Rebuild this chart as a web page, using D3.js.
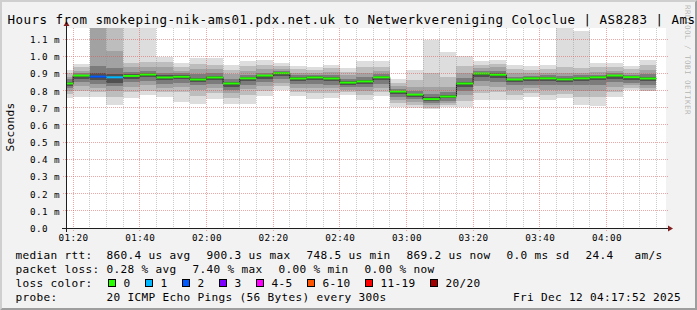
<!DOCTYPE html>
<html>
<head>
<meta charset="utf-8">
<script src="https://cdn.jsdelivr.net/npm/d3@7"></script>
<style>
  html, body { margin: 0; padding: 0; background: #f2f2f2; }
  svg { display: block; }
  text { font-family: "DejaVu Sans Mono", monospace; fill: #000; white-space: pre; }
</style>
</head>
<body>
<svg id="chart" width="697" height="310"></svg>
<script>
const day = '2025-12-12';
const rangeStart = '01:17:52';
const rangeEnd = '04:17:52';

// start of each 300s step
const stepStarts = [
  '01:15', '01:20', '01:25', '01:30', '01:35', '01:40', '01:45', '01:50', '01:55',
  '02:00', '02:05', '02:10', '02:15', '02:20', '02:25', '02:30', '02:35', '02:40',
  '02:45', '02:50', '02:55', '03:00', '03:05', '03:10', '03:15', '03:20', '03:25',
  '03:30', '03:35', '03:40', '03:45', '03:50', '03:55', '04:00', '04:05', '04:10',
];

// median rtt per step, ms
const median = [
  0.840, 0.886, 0.880, 0.876, 0.884, 0.892, 0.875, 0.879, 0.863,
  0.875, 0.840, 0.870, 0.886, 0.900, 0.869, 0.875, 0.869, 0.845,
  0.852, 0.876, 0.793, 0.775, 0.749, 0.764, 0.840, 0.898, 0.891,
  0.863, 0.870, 0.870, 0.864, 0.870, 0.876, 0.886, 0.877, 0.869,
];

// lost pings out of 20 per step
const lossCount = [
  0, 0, 2, 1, 0, 0, 0, 0, 0,
  0, 0, 0, 0, 0, 0, 0, 0, 0,
  0, 0, 0, 0, 0, 0, 0, 0, 0,
  0, 0, 0, 0, 0, 0, 0, 0, 0,
];

// smoke: ping quantiles per step, ms, outer to inner
// [min, lo1, lo2, lo3, lo4, hi4, hi3, hi2, hi1, max]
const smoke = [
  [0.757, 0.780, 0.795, 0.812, 0.825, 0.852, 0.865, 0.880, 0.900, 0.920],
  [0.763, 0.795, 0.825, 0.850, 0.868, 0.892, 0.900, 0.915, 0.935, 0.955],
  [0.760, 0.790, 0.815, 0.840, 0.860, 0.905, 0.945, 1.300, 1.300, 1.300],
  [0.718, 0.765, 0.800, 0.825, 0.845, 0.895, 0.930, 1.031, 1.300, 1.300],
  [0.758, 0.790, 0.820, 0.850, 0.870, 0.895, 0.910, 0.935, 0.962, 1.300],
  [0.772, 0.800, 0.830, 0.858, 0.878, 0.900, 0.915, 0.940, 0.965, 1.300],
  [0.764, 0.790, 0.815, 0.840, 0.860, 0.888, 0.905, 0.935, 0.965, 0.998],
  [0.735, 0.790, 0.820, 0.845, 0.865, 0.888, 0.900, 0.915, 0.940, 0.962],
  [0.722, 0.770, 0.805, 0.830, 0.848, 0.875, 0.895, 0.925, 0.955, 0.987],
  [0.753, 0.785, 0.815, 0.840, 0.860, 0.885, 0.900, 0.925, 0.950, 0.987],
  [0.723, 0.755, 0.785, 0.805, 0.822, 0.852, 0.870, 0.895, 0.920, 0.950],
  [0.724, 0.775, 0.810, 0.835, 0.855, 0.880, 0.893, 0.915, 0.945, 0.974],
  [0.770, 0.795, 0.825, 0.850, 0.870, 0.893, 0.905, 0.925, 0.950, 0.975],
  [0.803, 0.825, 0.845, 0.865, 0.885, 0.907, 0.915, 0.928, 0.945, 0.963],
  [0.769, 0.790, 0.815, 0.838, 0.855, 0.878, 0.890, 0.905, 0.925, 0.943],
  [0.753, 0.785, 0.815, 0.840, 0.860, 0.882, 0.890, 0.905, 0.920, 0.935],
  [0.759, 0.785, 0.812, 0.835, 0.855, 0.878, 0.890, 0.910, 0.930, 0.949],
  [0.776, 0.790, 0.805, 0.820, 0.833, 0.855, 0.870, 0.890, 0.910, 0.930],
  [0.745, 0.775, 0.800, 0.820, 0.838, 0.862, 0.880, 0.905, 0.935, 0.970],
  [0.769, 0.790, 0.815, 0.840, 0.860, 0.883, 0.895, 0.915, 0.940, 0.970],
  [0.704, 0.725, 0.745, 0.765, 0.780, 0.798, 0.808, 0.825, 0.845, 0.868],
  [0.700, 0.718, 0.735, 0.750, 0.765, 0.782, 0.795, 0.820, 0.860, 0.921],
  [0.690, 0.700, 0.715, 0.728, 0.740, 0.760, 0.780, 0.820, 0.900, 1.092],
  [0.704, 0.715, 0.728, 0.742, 0.755, 0.772, 0.790, 0.820, 0.880, 1.026],
  [0.704, 0.740, 0.775, 0.800, 0.822, 0.852, 0.875, 0.905, 0.945, 0.999],
  [0.747, 0.785, 0.825, 0.855, 0.880, 0.905, 0.915, 0.930, 0.950, 0.974],
  [0.745, 0.790, 0.820, 0.850, 0.875, 0.900, 0.915, 0.935, 0.955, 0.980],
  [0.747, 0.775, 0.805, 0.830, 0.850, 0.870, 0.880, 0.900, 0.925, 0.951],
  [0.762, 0.785, 0.812, 0.835, 0.855, 0.876, 0.885, 0.900, 0.920, 0.945],
  [0.747, 0.775, 0.805, 0.830, 0.855, 0.877, 0.888, 0.903, 0.925, 0.951],
  [0.755, 0.780, 0.805, 0.830, 0.850, 0.872, 0.885, 0.905, 0.935, 1.300],
  [0.718, 0.760, 0.800, 0.830, 0.855, 0.877, 0.888, 0.905, 0.930, 1.148],
  [0.712, 0.760, 0.800, 0.835, 0.860, 0.882, 0.893, 0.910, 0.935, 0.960],
  [0.762, 0.790, 0.820, 0.850, 0.870, 0.892, 0.900, 0.915, 0.935, 0.960],
  [0.805, 0.815, 0.830, 0.845, 0.862, 0.882, 0.890, 0.905, 0.925, 0.945],
  [0.795, 0.800, 0.815, 0.835, 0.855, 0.878, 0.895, 0.920, 0.950, 0.980],
];
const smokeColors = ['#dddddd', '#bdbdbd', '#a2a2a2', '#7c7c7c', '#505050'];

const yTicks = [0, 0.1, 0.2, 0.3, 0.4, 0.5, 0.6, 0.7, 0.8, 0.9, 1.0, 1.1];
const yTickLabels = ['0.0', '0.1 m', '0.2 m', '0.3 m', '0.4 m', '0.5 m', '0.6 m',
  '0.7 m', '0.8 m', '0.9 m', '1.0 m', '1.1 m'];
const yTop = 1.1641;

const lossLabels = ['0', '1', '2', '3', '4-5', '6-10', '11-19', '20/20'];
const lossColors = ['#26ff00', '#00b8ff', '#0059ff', '#7e00ff', '#ff00ff', '#ff5500', '#ff0000', '#a10000'];
const lossMin = [0, 1, 2, 3, 4, 6, 11, 20];

const title = 'Hours from smokeping-nik-ams01.pdx.net.uk to Netwerkvereniging Coloclue | AS8283 | Ams';
const medianStats = ['860.4 us avg', '900.3 us max', '748.5 us min', '869.2 us now', '0.0 ms sd', '24.4   am/s'];
const lossStats = ['0.28 % avg', '7.40 % max', '0.00 % min', '0.00 % now'];
const probeText = '20 ICMP Echo Pings (56 Bytes) every 300s';
const stampText = 'Fri Dec 12 04:17:52 2025';

const W = 697, H = 310;
const X0 = 66, XSIZE = 600, Y0 = 228, YSIZE = 200;

const parse = d3.timeParse('%Y-%m-%d %H:%M:%S');
const t0 = parse(`${day} ${rangeStart}`);
const t1 = parse(`${day} ${rangeEnd}`);
const steps = stepStarts.map((s) => parse(`${day} ${s}:00`));
const stepEnd = (t) => d3.timeMinute.offset(t, 5);

const x = d3.scaleTime().domain([t0, t1]).range([X0, X0 + XSIZE]);
const y = d3.scaleLinear().domain([0, yTop]).range([Y0, Y0 - YSIZE]);
const crisp = (v) => Math.floor(v) + 0.5;

function lossColor(n) {
  let idx = 0;
  lossMin.forEach((m, i) => { if (n >= m) idx = i; });
  return lossColors[idx];
}

const svg = d3.select('#chart');

// background + 3d border
svg.append('rect').attr('width', W).attr('height', H).attr('fill', '#f2f2f2');
svg.append('polygon')
  .attr('points', `0,${H} 2,${H - 2} 2,2 ${W - 2},2 ${W},0 0,0`)
  .attr('fill', '#cfcfcf');
svg.append('polygon')
  .attr('points', `2,${H - 2} ${W - 2},${H - 2} ${W - 2},2 ${W},0 ${W},${H} 0,${H}`)
  .attr('fill', '#9e9e9e');

svg.append('defs').append('clipPath').attr('id', 'canvas-clip')
  .append('rect').attr('x', X0).attr('y', Y0 - YSIZE).attr('width', XSIZE).attr('height', YSIZE);

svg.append('rect')
  .attr('x', X0).attr('y', Y0 - YSIZE).attr('width', XSIZE).attr('height', YSIZE)
  .attr('fill', '#ffffff');

const plot = svg.append('g').attr('clip-path', 'url(#canvas-clip)');

// smoke bands
smokeColors.forEach((color, k) => {
  plot.append('g')
    .attr('shape-rendering', 'crispEdges')
    .selectAll('rect')
    .data(steps)
    .join('rect')
    .attr('x', (d) => x(d))
    .attr('width', (d) => x(stepEnd(d)) - x(d))
    .attr('y', (d, i) => y(smoke[i][9 - k]))
    .attr('height', (d, i) => y(smoke[i][k]) - y(smoke[i][9 - k]))
    .attr('fill', color);
});

// median step line
const medPts = steps.map((t, i) => [t, median[i]]);
medPts.push([stepEnd(steps[steps.length - 1]), median[median.length - 1]]);
plot.append('path')
  .attr('d', d3.line().curve(d3.curveStepAfter).x((d) => x(d[0])).y((d) => y(d[1]))(medPts))
  .attr('fill', 'none')
  .attr('stroke', '#1a1a1a')
  .attr('stroke-width', 1);

// median coloured by loss
plot.append('g')
  .selectAll('rect')
  .data(steps)
  .join('rect')
  .attr('x', (d) => x(d))
  .attr('width', (d) => x(stepEnd(d)) - x(d))
  .attr('y', (d, i) => y(median[i]) - 1.2)
  .attr('height', 2)
  .attr('fill', (d, i) => lossColor(lossCount[i]));

// grid (drawn above the data, like rrdtool)
const grid = svg.append('g').attr('fill', 'none').attr('stroke-dasharray', '1,1');
const minorTicks = d3.timeMinute.every(5).range(t0, t1);
const majorTicks = minorTicks.filter((t) => t.getMinutes() % 20 === 0);

grid.selectAll('line.minor')
  .data(minorTicks.filter((t) => t.getMinutes() % 20 !== 0))
  .join('line')
  .attr('class', 'minor')
  .attr('x1', (d) => crisp(x(d))).attr('x2', (d) => crisp(x(d)))
  .attr('y1', Y0 - YSIZE).attr('y2', Y0 + 2)
  .attr('stroke', 'rgba(143,143,143,0.45)');

grid.selectAll('line.major')
  .data(majorTicks)
  .join('line')
  .attr('class', 'major')
  .attr('x1', (d) => crisp(x(d))).attr('x2', (d) => crisp(x(d)))
  .attr('y1', Y0 - YSIZE).attr('y2', Y0 + 3)
  .attr('stroke', 'rgba(222,79,79,0.5)');

grid.selectAll('line.hmajor')
  .data(yTicks.filter((v) => v > 0))
  .join('line')
  .attr('class', 'hmajor')
  .attr('x1', X0 - 3).attr('x2', X0 + XSIZE + 2)
  .attr('y1', (d) => crisp(y(d))).attr('y2', (d) => crisp(y(d)))
  .attr('stroke', 'rgba(222,79,79,0.5)');

// axes
svg.append('line')
  .attr('x1', X0 - 4).attr('x2', X0 + XSIZE + 4)
  .attr('y1', Y0 + 0.5).attr('y2', Y0 + 0.5)
  .attr('stroke', '#1f1f1f');
svg.append('line')
  .attr('x1', X0 + 0.5).attr('x2', X0 + 0.5)
  .attr('y1', Y0 + 4).attr('y2', Y0 - YSIZE - 4)
  .attr('stroke', '#1f1f1f');
svg.append('polygon')
  .attr('points', `${X0 + XSIZE + 2},${Y0 - 2.5} ${X0 + XSIZE + 2},${Y0 + 3.5} ${X0 + XSIZE + 7},${Y0 + 0.5}`)
  .attr('fill', '#801f1f');
svg.append('polygon')
  .attr('points', `${X0 - 2.5},${Y0 - YSIZE - 2} ${X0 + 3.5},${Y0 - YSIZE - 2} ${X0 + 0.5},${Y0 - YSIZE - 7}`)
  .attr('fill', '#801f1f');

// x labels
const xAxis = svg.append('g')
  .attr('transform', `translate(0,${Y0})`)
  .call(d3.axisBottom(x).tickValues(majorTicks).tickFormat(d3.timeFormat('%H:%M')).tickSize(0));
xAxis.select('.domain').remove();
xAxis.selectAll('text')
  .attr('y', 13).attr('dy', null)
  .style('font-size', '9.3px').style('letter-spacing', '0.4px')
  .attr('fill', '#000');

// y labels
const yAxis = svg.append('g')
  .attr('transform', `translate(${X0},0)`)
  .call(d3.axisLeft(y).tickValues(yTicks).tickFormat((d, i) => yTickLabels[i]).tickSize(0));
yAxis.select('.domain').remove();
yAxis.selectAll('text')
  .attr('text-anchor', 'start')
  .attr('x', 30 - X0).attr('dy', '0.37em')
  .style('font-size', '9.3px').style('letter-spacing', '0.4px')
  .attr('fill', '#000');

// title, unit, watermark
svg.append('text')
  .attr('x', 7.5).attr('y', 24)
  .style('font-size', '12.5px').style('letter-spacing', '0.475px')
  .text(title);

svg.append('text')
  .attr('transform', 'translate(14,127) rotate(-90)')
  .attr('text-anchor', 'middle')
  .style('font-size', '11.1px').style('letter-spacing', '0.32px')
  .text('Seconds');

svg.append('text')
  .attr('transform', `translate(${W - 12},5) rotate(90)`)
  .style('font-size', '7.6px').style('letter-spacing', '0.43px')
  .style('fill', 'rgba(0,0,0,0.28)')
  .text('RRDTOOL / TOBI OETIKER');

// legend
const legend = svg.append('g').style('font-size', '11.1px').style('letter-spacing', '0.32px');
const labelX = 15.5;
const colX = 106.5;
const rows = [258.5, 272.5, 286.5, 300.5];

function addText(xPos, yPos, str) {
  return legend.append('text')
    .attr('x', xPos).attr('y', yPos)
    .attr('xml:space', 'preserve')
    .text(str);
}

function addChunks(chunks, yPos, gap) {
  let cx = colX;
  chunks.forEach((c) => {
    const t = addText(cx, yPos, c);
    cx += t.node().getComputedTextLength() + gap;
  });
}

addText(labelX, rows[0], 'median rtt:');
addChunks(medianStats, rows[0], 16);

addText(labelX, rows[1], 'packet loss:');
addChunks(lossStats, rows[1], 16);

addText(labelX, rows[2], 'loss color:');
let bx = colX + 2;
lossLabels.forEach((lab, i) => {
  legend.append('rect')
    .attr('x', bx).attr('y', rows[2] - 7)
    .attr('width', 7).attr('height', 7)
    .attr('fill', lossColors[i])
    .attr('stroke', '#000').attr('stroke-width', 1);
  const t = addText(bx + 15, rows[2], lab);
  bx += 15 + t.node().getComputedTextLength() + 15;
});

addText(labelX, rows[3], 'probe:');
addText(colX, rows[3], probeText);
addText(681, rows[3], stampText).attr('text-anchor', 'end');
</script>
</body>
</html>
